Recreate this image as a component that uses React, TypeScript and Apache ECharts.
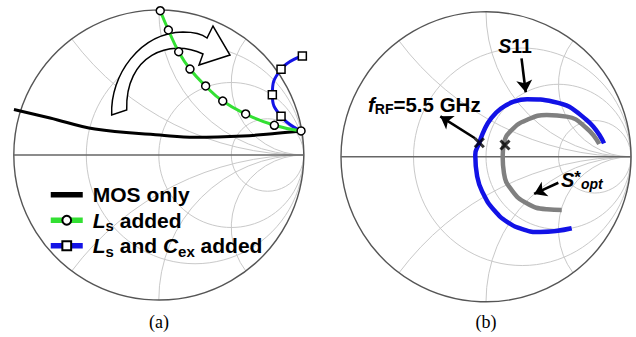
import React, { useEffect, useRef } from 'react';
import * as echarts from 'echarts';

// Smith chart grid values
const resistanceCircles = [1 / 3, 1, 3];
const reactanceArcs = [0.5, 1, 2, -0.5, -1, -2];

// (a) reflection coefficients [Re, Im]
const mosOnly = [
  [-0.999, 0.314], [-0.75, 0.255], [-0.44, 0.179], [0.008, 0.138],
  [0.25, 0.122], [0.581, 0.131], [0.815, 0.15], [0.981, 0.166],
];
const lsAdded = [
  [0.01, 0.995], [0.066, 0.862], [0.137, 0.712], [0.215, 0.593], [0.323, 0.476],
  [0.441, 0.372], [0.599, 0.283], [0.797, 0.205], [0.981, 0.166],
];
const lsCexAdded = [
  [0.99, 0.683], [0.843, 0.591], [0.783, 0.416], [0.843, 0.267], [0.981, 0.166],
];

// (b)
const s11 = [
  [0.814, 0.093], [0.694, 0.254], [0.464, 0.38], [0.283, 0.397], [0.186, 0.378],
  [0.103, 0.333], [0.034, 0.264], [-0.012, 0.185], [-0.046, 0.097], [-0.074, 0.012],
  [-0.061, -0.135], [-0.016, -0.26], [0.055, -0.367], [0.148, -0.45], [0.257, -0.501],
  [0.372, -0.519], [0.591, -0.493],
];
const sOpt = [
  [0.781, 0.088], [0.694, 0.197], [0.557, 0.277], [0.419, 0.288], [0.281, 0.254],
  [0.177, 0.185], [0.124, 0.093], [0.115, 0.001], [0.124, -0.114], [0.177, -0.229],
  [0.281, -0.321], [0.419, -0.362], [0.522, -0.367],
];
const fRfMarkers = [[-0.046, 0.097], [0.131, 0.081]];
const calloutArrows = [
  [[-0.076, 0.128], [-0.315, 0.279]],
  [[0.245, 0.679], [0.274, 0.445]],
  [[0.499, -0.179], [0.332, -0.256]],
];

const legendNames = ['MOS only', 'Ls added', 'Ls and Cex added'];
const legendLabels: Record<string, string> = {
  'MOS only': '{b|MOS only}',
  'Ls added': '{i|L}{s|s}{b| added}',
  'Ls and Cex added': '{i|L}{s|s}{b| and }{i|C}{s|ex}{b| added}',
};

const F = '"Liberation Sans", Arial, Helvetica, sans-serif';
const SERIF = '"Liberation Serif", "Times New Roman", serif';

echarts.graphic.registerShape(
  'bigArrow',
  echarts.graphic.extendPath(
    'M111.7 115 C110 75 140 33 183 32 C193 32 202 34 207 38 L213 26 L230 55 L199 65 L203 54 C170 38 125 55 126.7 110 Z',
    {}
  )
);

const gridItems: number[][] = [
  ...resistanceCircles.map((r) => [0, r]),
  ...reactanceArcs.map((x) => [1, x]),
  [2, 0],
  [3, 0],
];

function smithRenderItem(params: any, api: any) {
  const kind = api.value(0);
  const v = api.value(1);
  const gridStroke = '#c9c9c9';
  if (kind === 0) {
    const c = api.coord([v / (1 + v), 0]);
    const rr = api.size([1 / (1 + v), 0])[0];
    return {
      type: 'circle',
      shape: { cx: c[0], cy: c[1], r: rr },
      style: { fill: 'none', stroke: gridStroke, lineWidth: 1 },
    };
  }
  if (kind === 1) {
    const a = Math.abs(v);
    const c = api.coord([1, 1 / v]);
    const rr = api.size([1 / a, 0])[0];
    const th1 = Math.atan2(a * a - 1, -2 * a);
    let end = -th1;
    while (end < Math.PI / 2) end += 2 * Math.PI;
    while (end > Math.PI / 2 + 2 * Math.PI) end -= 2 * Math.PI;
    const start = Math.PI / 2;
    const shape =
      v > 0
        ? { cx: c[0], cy: c[1], r: rr, startAngle: start, endAngle: end, clockwise: true }
        : { cx: c[0], cy: c[1], r: rr, startAngle: -end, endAngle: -start, clockwise: true };
    return { type: 'arc', shape, style: { fill: 'none', stroke: gridStroke, lineWidth: 1 } };
  }
  if (kind === 2) {
    const c = api.coord([0, 0]);
    const rr = api.size([1, 0])[0];
    return {
      type: 'circle',
      shape: { cx: c[0], cy: c[1], r: rr },
      style: { fill: 'none', stroke: '#555', lineWidth: 1.4 },
    };
  }
  const p1 = api.coord([-1, 0]);
  const p2 = api.coord([1, 0]);
  return {
    type: 'line',
    shape: { x1: p1[0], y1: p1[1], x2: p2[0], y2: p2[1] },
    style: { stroke: '#666', lineWidth: 1.4 },
  };
}

const richMain = (size: number, lh: number) => ({
  b: { fontFamily: F, fontWeight: 'bold', fontSize: size, lineHeight: lh, fill: '#000' },
  i: { fontFamily: F, fontWeight: 'bold', fontStyle: 'italic', fontSize: size, lineHeight: lh, fill: '#000' },
  s: { fontFamily: F, fontWeight: 'bold', fontSize: 14, lineHeight: lh - 8, verticalAlign: 'bottom', fill: '#000' },
  sup: { fontFamily: F, fontWeight: 'bold', fontSize: 17, lineHeight: 14, verticalAlign: 'top', fill: '#000' },
  si: { fontFamily: F, fontWeight: 'bold', fontStyle: 'italic', fontSize: 14, lineHeight: lh - 8, verticalAlign: 'bottom', fill: '#000' },
});

export default function App() {
  const ref = useRef<HTMLDivElement>(null);
  useEffect(() => {
    document.body.style.margin = '0';
    if (!ref.current) return;
    const chart = echarts.init(ref.current, undefined, { renderer: 'svg' });
    const axisBase = { type: 'value', min: -1, max: 1, show: false };
    const option: any = {
      animation: false,
      backgroundColor: '#fff',
      grid: [
        { left: 13.8, top: 10, width: 290, height: 290 },
        { left: 341, top: 11.8, width: 290, height: 290 },
      ],
      xAxis: [{ ...axisBase, gridIndex: 0 }, { ...axisBase, gridIndex: 1 }],
      yAxis: [{ ...axisBase, gridIndex: 0 }, { ...axisBase, gridIndex: 1 }],
      legend: {
        orient: 'vertical',
        left: 48,
        top: 182,
        padding: 0,
        itemGap: 0,
        itemWidth: 32,
        itemHeight: 11,
        selectedMode: false,
        lineStyle: { width: 5.5 },
        data: [{ name: legendNames[0], itemStyle: { opacity: 0 } }, legendNames[1], legendNames[2]],
        formatter: (name: string) => legendLabels[name],
        textStyle: {
          color: '#000',
          fontFamily: F,
          fontWeight: 'bold',
          fontSize: 21,
          lineHeight: 25.5,
          padding: [0, 0, 0, 5],
          rich: {
            b: { fontFamily: F, fontWeight: 'bold', fontSize: 21, lineHeight: 25.5, color: '#000' },
            i: { fontFamily: F, fontWeight: 'bold', fontStyle: 'italic', fontSize: 21, lineHeight: 25.5, color: '#000' },
            s: { fontFamily: F, fontWeight: 'bold', fontSize: 15, lineHeight: 17, verticalAlign: 'bottom', color: '#000' },
          },
        },
      },
      series: [
        { type: 'custom', xAxisIndex: 0, yAxisIndex: 0, z: 0, silent: true, renderItem: smithRenderItem, data: gridItems },
        { type: 'custom', xAxisIndex: 1, yAxisIndex: 1, z: 0, silent: true, renderItem: smithRenderItem, data: gridItems },
        {
          name: legendNames[0], type: 'line', xAxisIndex: 0, yAxisIndex: 0, z: 3, data: mosOnly,
          smooth: 0.4, symbol: 'none', clip: false,
          lineStyle: { color: '#000', width: 3 }, itemStyle: { color: '#000' },
        },
        {
          name: legendNames[2], type: 'line', xAxisIndex: 0, yAxisIndex: 0, z: 4, clip: false,
          data: lsCexAdded.map((p, i) => (i === lsCexAdded.length - 1 ? { value: p, symbol: 'none' } : p)),
          smooth: 0.5, symbol: 'rect', symbolSize: 8,
          lineStyle: { color: '#1414e6', width: 3 },
          itemStyle: { color: '#fff', borderColor: '#000', borderWidth: 1.5 },
        },
        {
          name: legendNames[1], type: 'line', xAxisIndex: 0, yAxisIndex: 0, z: 5, clip: false, data: lsAdded,
          smooth: 0.5, symbol: 'circle', symbolSize: 8,
          lineStyle: { color: '#33e033', width: 3 },
          itemStyle: { color: '#fff', borderColor: '#000', borderWidth: 1.5 },
        },
        {
          name: 'S*opt', type: 'line', xAxisIndex: 1, yAxisIndex: 1, z: 3, data: sOpt, smooth: 0.5,
          symbol: 'none', lineStyle: { color: '#808080', width: 4.5, cap: 'butt' },
        },
        {
          name: 'S11', type: 'line', xAxisIndex: 1, yAxisIndex: 1, z: 4, data: s11, smooth: 0.5,
          symbol: 'none', lineStyle: { color: '#1212e6', width: 4.5, cap: 'butt' },
        },
        {
          name: 'fRF', type: 'scatter', xAxisIndex: 1, yAxisIndex: 1, z: 6, data: fRfMarkers,
          symbol: 'path://M0,0L10,10M10,0L0,10', symbolSize: 9,
          itemStyle: { color: 'none', borderColor: '#000', borderWidth: 3 },
        },
        {
          name: 'arrows', type: 'line', xAxisIndex: 1, yAxisIndex: 1, z: 7, data: [],
          markLine: {
            silent: true,
            symbol: ['none', 'arrow'],
            symbolSize: 12,
            label: { show: false },
            lineStyle: { color: '#000', width: 2.6, type: 'solid' },
            emphasis: { disabled: true },
            data: calloutArrows.map((a) => [{ coord: a[0] }, { coord: a[1] }]),
          },
        },
      ],
      graphic: [
        { type: 'bigArrow', z: 1, style: { fill: '#fff', stroke: '#000', lineWidth: 1.5 } },
        {
          type: 'text', x: 368, y: 104.8, z: 10,
          style: { text: '{i|f}{s|RF}{b|=5.5 GHz}', rich: richMain(20.5, 22), align: 'left', verticalAlign: 'middle' },
        },
        {
          type: 'text', x: 515, y: 46.1, z: 10,
          style: { text: '{i|S}{b|11}', rich: richMain(19.5, 22), align: 'center', verticalAlign: 'middle' },
        },
        {
          type: 'text', x: 561, y: 180.1, z: 10,
          style: { text: '{i|S}{sup|*}{si|opt}', rich: richMain(20, 22), align: 'left', verticalAlign: 'middle' },
        },
        {
          type: 'text', x: 159, y: 322, z: 10,
          style: { text: '(a)', font: `18px ${SERIF}`, fill: '#000', align: 'center', verticalAlign: 'middle' },
        },
        {
          type: 'text', x: 486, y: 322, z: 10,
          style: { text: '(b)', font: `18px ${SERIF}`, fill: '#000', align: 'center', verticalAlign: 'middle' },
        },
      ],
    };
    chart.setOption(option);
    return () => chart.dispose();
  }, []);
  return <div ref={ref} style={{ width: 636, height: 337 }} />;
}
